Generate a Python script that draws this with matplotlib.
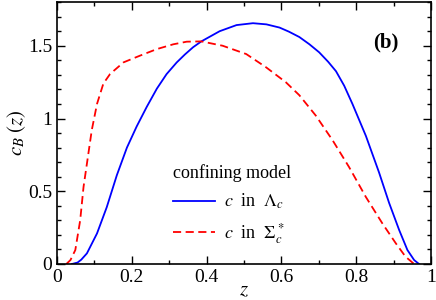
import numpy as np
import matplotlib
matplotlib.use("Agg")
import matplotlib.pyplot as plt
from matplotlib.ticker import MultipleLocator

plt.rcParams["font.family"] = ["Liberation Serif", "DejaVu Serif"]
plt.rcParams["mathtext.fontset"] = "stix"

# values
z_lambda = [0.040, 0.055, 0.065, 0.080, 0.107, 0.133, 0.160, 0.187, 0.213, 0.240,
            0.267, 0.293, 0.320, 0.342, 0.364, 0.386, 0.435, 0.480, 0.524, 0.560,
            0.595, 0.620, 0.648, 0.675, 0.701, 0.725, 0.746, 0.768, 0.790, 0.826,
            0.861, 0.888, 0.915, 0.937, 0.955, 0.968]
c_lambda = [0.0, 0.010, 0.030, 0.073, 0.21, 0.39, 0.61, 0.80, 0.945, 1.08,
            1.205, 1.305, 1.385, 1.44, 1.49, 1.53, 1.60, 1.642, 1.655, 1.647,
            1.625, 1.597, 1.56, 1.51, 1.455, 1.39, 1.325, 1.225, 1.10, 0.88,
            0.63, 0.42, 0.233, 0.096, 0.027, 0.0]

z_sigma = [0.025, 0.036, 0.049, 0.062, 0.071, 0.084, 0.093, 0.107, 0.124, 0.142,
           0.178, 0.222, 0.267, 0.311, 0.347, 0.386, 0.443, 0.506, 0.559, 0.612,
           0.648, 0.692, 0.737, 0.781, 0.826, 0.870, 0.906, 0.932, 0.955]
c_sigma = [0.0, 0.027, 0.096, 0.30, 0.53, 0.76, 0.92, 1.10, 1.24, 1.306,
           1.386, 1.432, 1.477, 1.51, 1.528, 1.53, 1.50, 1.443, 1.352, 1.249,
           1.16, 1.02, 0.85, 0.666, 0.46, 0.279, 0.142, 0.05, 0.0]

fig = plt.figure(figsize=(4.36, 3.0), dpi=100)
ax = fig.add_axes([0.1307, 0.12, 0.8578, 0.873])

ax.plot(z_lambda, c_lambda, color="#0000ff", lw=1.3, label=r"$c$  in  $\Lambda_c$")
ax.plot(z_sigma, c_sigma, color="#ff0000", lw=1.3, ls=(0, (4.5, 2.5)),
        label=r"$c$  in  $\Sigma_c^*$")

ax.set_xlim(0, 1)
ax.set_ylim(0, 1.8)
ax.xaxis.set_minor_locator(MultipleLocator(0.1))
ax.yaxis.set_minor_locator(MultipleLocator(0.1))
ax.set_xticks([0, 0.2, 0.4, 0.6, 0.8, 1.0])
ax.set_xticklabels(["0", "0.2", "0.4", "0.6", "0.8", "1"])
ax.set_yticks([0, 0.5, 1.0, 1.5])
ax.set_yticklabels(["0", "0.5", "1", "1.5"])
ax.tick_params(which="both", direction="in", top=True, right=True, labelsize=14, width=1.0)
ax.tick_params(which="major", length=6)
ax.tick_params(which="minor", length=3)
for s in ax.spines.values():
    s.set_linewidth(1.2)

ax.set_xlabel(r"$z$", fontsize=15, labelpad=-3)
ax.set_ylabel(r"$c_B\;(z)$", fontsize=15, labelpad=0)

ax.text(0.912, 0.847, "(b)", transform=ax.transAxes, fontsize=15,
        fontweight="bold", ha="right", va="center")

leg = ax.legend(loc="upper left", bbox_to_anchor=(0.277, 0.43), frameon=False,
                title="confining model", fontsize=13, title_fontsize=13,
                handlelength=2.3, handletextpad=0.5, labelspacing=0.55,
                alignment="left", borderpad=0.2)

fig.savefig("out.png", dpi=100)
